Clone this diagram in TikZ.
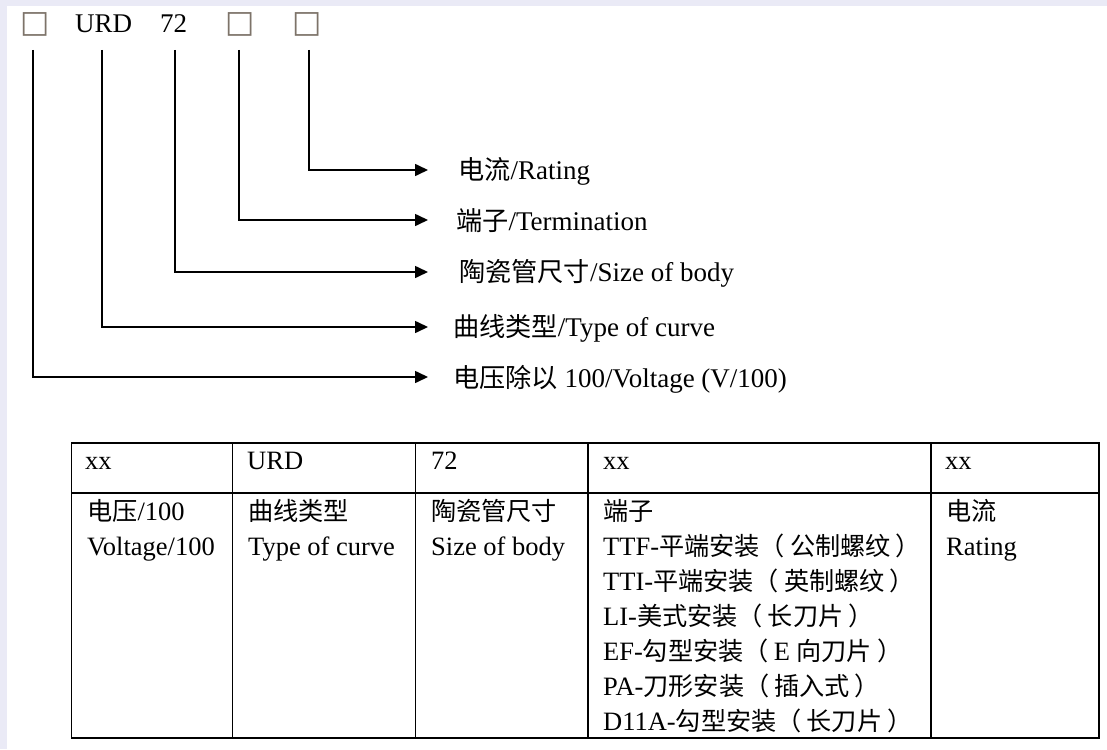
\documentclass[tikz,border=0pt]{standalone}
\usepackage{fontspec}
\setmainfont{Liberation Serif}
\newfontfamily\cjk[Scale=0.97]{Noto Sans CJK SC}
\newfontfamily\cjkt[Scale=0.95]{Noto Sans CJK SC}
\newfontfamily\symf{DejaVu Sans}
\newcommand\myLP{{\cjkt （}\kern5pt}
\newcommand\myRP{\kern5pt{\cjkt ）}}
\usetikzlibrary{arrows.meta}
\definecolor{bgl}{RGB}{234,234,246}
\definecolor{boxc}{RGB}{125,115,105}
\tikzset{
  conn/.style={line width=1.6pt,-{Triangle[length=13pt,width=12pt]}},
  lbl/.style={anchor=base west,inner sep=0pt,font=\fontsize{27}{32}\selectfont},
  cell/.style={anchor=base west,inner sep=0pt,font=\fontsize{26.5}{30}\selectfont},
  gridline/.style={line width=1.8pt},
  sq/.style={anchor=center,inner sep=0pt,font=\symf\fontsize{31}{34}\selectfont,text=boxc}
}
\begin{document}
\begin{tikzpicture}[x=1pt,y=-1pt]
\useasboundingbox (0,0) rectangle (1107,749);
\fill[bgl] (0,0) rectangle (1107,749);
\fill[white] (7,6) rectangle (1107,749);
% top code line
\node[sq] (q1) at (35,24) {□};
\node[lbl] (urd) at (75,33) {URD};
\node[lbl] (n72) at (160,33) {72};
\node[sq] (q4) at (240,24) {□};
\node[sq] (q5) at (307,24) {□};
% connector ends
\coordinate (t1) at (33,50);
\coordinate (t2) at (102,50);
\coordinate (t3) at (175,50);
\coordinate (t4) at (239,50);
\coordinate (t5) at (309,50);
\coordinate (e1) at (428,377);
\coordinate (e2) at (428,327);
\coordinate (e3) at (428,272);
\coordinate (e4) at (428,220);
\coordinate (e5) at (428,170);
% labels
\node[lbl] (L5) at (458,179.5) {{\cjk 电流}/Rating};
\node[lbl] (L4) at (456,230.5) {{\cjk 端子}/Termination};
\node[lbl] (L3) at (459,281.5) {{\cjk 陶瓷管尺寸}/Size of body};
\node[lbl] (L2) at (453,336.5) {{\cjk 曲线类型}/Type of curve};
\node[lbl] (L1) at (453,387) {{\cjk 电压除以} 100/Voltage (V/100)};
% connectors
\draw[conn] (t5) |- (e5);
\draw[conn] (t4) |- (e4);
\draw[conn] (t3) |- (e3);
\draw[conn] (t2) |- (e2);
\draw[conn] (t1) |- (e1);
% table
\draw[gridline] (71.5,443) rectangle (1099,738);
\draw[gridline] (71.5,493) -- (1099,493);
\draw[gridline] (232.5,443) -- (232.5,738);
\draw[gridline] (415.5,443) -- (415.5,738);
\draw[gridline] (588,443) -- (588,738);
\draw[gridline] (931,443) -- (931,738);
% header row
\node[cell] (h1) at (85,469) {xx};
\node[cell] (h2) at (247,469) {URD};
\node[cell] (h3) at (431,469) {72};
\node[cell] (h4) at (603,469) {xx};
\node[cell] (h5) at (945,469) {xx};
% body
\node[cell] (a1) at (87,520) {{\cjkt 电压}/100};
\node[cell] (a2) at (87,555) {Voltage/100};
\node[cell] (b1) at (248,520) {{\cjkt 曲线类型}};
\node[cell] (b2) at (248,555) {Type of curve};
\node[cell] (c1) at (431,520) {{\cjkt 陶瓷管尺寸}};
\node[cell] (c2) at (431,555) {Size of body};
\node[cell] (d1) at (603,520) {{\cjkt 端子}};
\node[cell] (d2) at (603,555) {TTF-{\cjkt 平端安装}\myLP{\cjkt 公制螺纹}\myRP};
\node[cell] (d3) at (603,590) {TTI-{\cjkt 平端安装}\myLP{\cjkt 英制螺纹}\myRP};
\node[cell] (d4) at (603,625) {LI-{\cjkt 美式安装}\myLP{\cjkt 长刀片}\myRP};
\node[cell] (d5) at (603,660) {EF-{\cjkt 勾型安装}\myLP E {\cjkt 向刀片}\myRP};
\node[cell] (d6) at (603,695) {PA-{\cjkt 刀形安装}\myLP{\cjkt 插入式}\myRP};
\node[cell] (d7) at (603,730) {D11A-{\cjkt 勾型安装}\myLP{\cjkt 长刀片}\myRP};
\node[cell] (f1) at (946,520) {{\cjkt 电流}};
\node[cell] (f2) at (946,555) {Rating};
\end{tikzpicture}
\end{document}
